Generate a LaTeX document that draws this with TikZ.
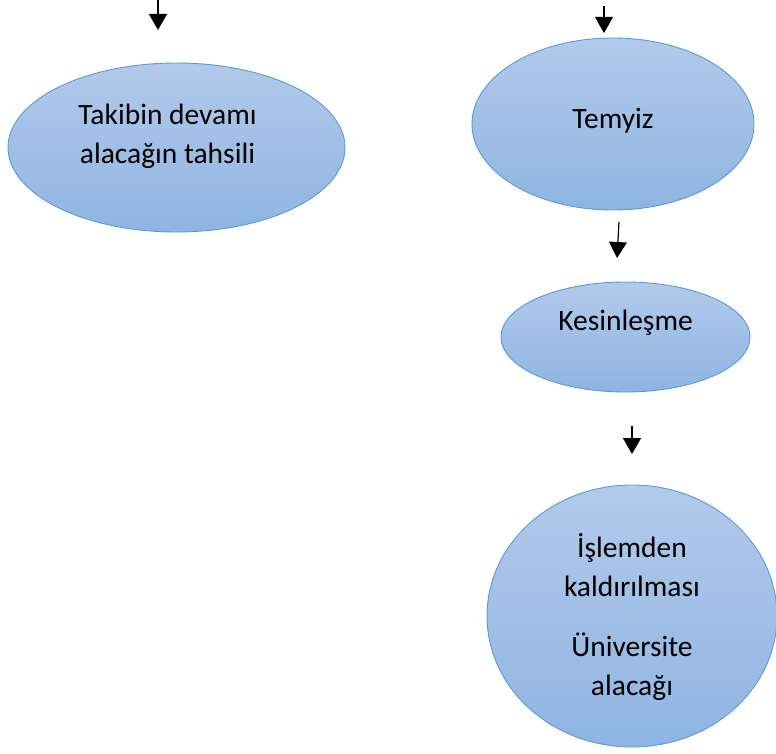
\documentclass[tikz,border=0pt]{standalone}
\usepackage{fontspec}
\setmainfont{Carlito}
\usetikzlibrary{shapes}
\usetikzlibrary{arrows.meta}
\definecolor{ovalline}{RGB}{91,155,213}
\definecolor{ovaltop}{RGB}{178,202,234}
\definecolor{ovalbot}{RGB}{143,180,226}
\tikzset{
	oval/.style = {ellipse, draw=ovalline, line width=0.9pt, inner sep=0pt,
		top color=ovaltop, bottom color=ovalbot},% baloncuk
	ovaltxt/.style = {align=center, inner sep=0pt, text centered,
		font=\fontsize{29.5}{39}\selectfont},% baloncuk yazisi
	akis/.style = {-{Triangle[width=18pt,length=16pt]}, line width=1.2pt, black}% akis oku
}

\begin{document}
\begin{tikzpicture}[x=1pt, y=-1pt]
		\useasboundingbox (0,0) rectangle (776,754);
		% baloncuklar
		\node [oval, minimum width=337, minimum height=169] (takip) at (176.5,147.5) {};
		\node [oval, minimum width=282, minimum height=172] (temyiz) at (613,124) {};
		\node [oval, minimum width=249, minimum height=110] (kesin) at (625.5,337) {};
		\node [oval, minimum width=290, minimum height=262] (islem) at (632,616) {};
		% yazilar
		\node [ovaltxt] (takiptxt) at ([xshift=-9, yshift=11]takip.center) {Takibin devamı\\alacağın tahsili};
		\node [ovaltxt] (temyiztxt) at ([yshift=3]temyiz.center) {Temyiz};
		\node [ovaltxt] (kesintxt) at ([yshift=14]kesin.center) {Kesinleşme};
		\node [ovaltxt] (islemtxt) at ([yshift=-1]islem.center) {İşlemden\\kaldırılması\\[21pt]Üniversite\\alacağı};
		% oklar
		\coordinate (o1a) at (158,0);   \coordinate (o1b) at (158,30);
		\coordinate (o2a) at (604,6);   \coordinate (o2b) at (604,33);
		\coordinate (o3a) at (619,222); \coordinate (o3b) at (617,258);
		\coordinate (o4a) at (632,426); \coordinate (o4b) at (632,454);
		\draw [akis] (o1a) -- (o1b);
		\draw [akis] (o2a) -- (o2b);
		\draw [akis] (o3a) -- (o3b);
		\draw [akis] (o4a) -- (o4b);
\end{tikzpicture}
\end{document}
